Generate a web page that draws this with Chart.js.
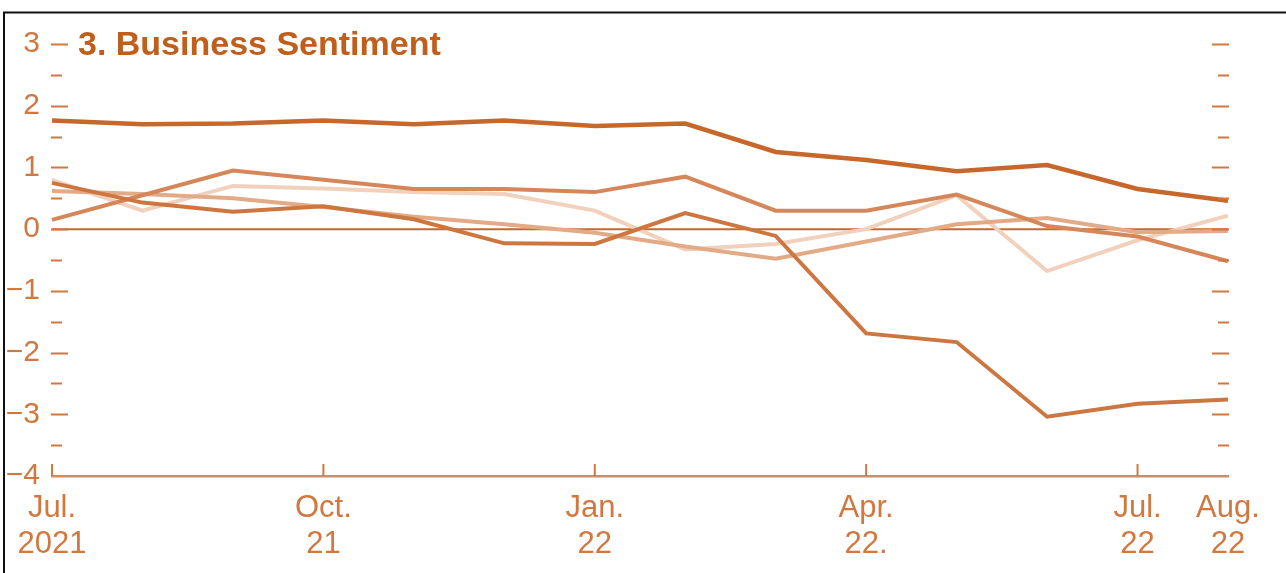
<!DOCTYPE html>
<html>
<head>
<meta charset="utf-8">
<script src="https://cdn.jsdelivr.net/npm/chart.js@4.4.1/dist/chart.umd.min.js"></script>
<style>
  html, body { margin: 0; padding: 0; background: #fff; }
  #wrap { width: 1286px; height: 573px; position: relative; }
</style>
</head>
<body>
<div id="wrap"><canvas id="sentimentChart"></canvas></div>
<script>
// Meses (jul. 2021 - ago. 2022)
const months = ["Jul 2021", "Aug 2021", "Sep 2021", "Oct 2021", "Nov 2021", "Dec 2021",
    "Jan 2022", "Feb 2022", "Mar 2022", "Apr 2022", "May 2022", "Jun 2022", "Jul 2022", "Aug 2022"];

// Etiquetas del eje x (vacío = sin etiqueta)
const xTickLabels = [["Jul.", "2021"], "", "", ["Oct.", "21"], "", "", ["Jan.", "22"], "", "",
    ["Apr.", "22."], "", "", ["Jul.", "22"], ["Aug.", "22"]];
const xTickMarks = [0, 3, 6, 9, 12];

// Series
const serieA = [1.76, 1.70, 1.71, 1.76, 1.70, 1.76, 1.67, 1.71, 1.25, 1.12, 0.94, 1.04, 0.65, 0.46];
const serieB = [0.15, 0.55, 0.95, 0.80, 0.65, 0.65, 0.60, 0.85, 0.30, 0.30, 0.56, 0.05, -0.12, -0.52];
const serieC = [0.75, 0.43, 0.28, 0.37, 0.16, -0.23, -0.24, 0.26, -0.11, -1.69, -1.83, -3.04, -2.83, -2.76];
const serieD = [0.62, 0.57, 0.50, 0.36, 0.20, 0.08, -0.06, -0.28, -0.48, -0.20, 0.08, 0.18, -0.05, -0.03];
const serieE = [0.80, 0.30, 0.70, 0.66, 0.60, 0.57, 0.30, -0.33, -0.24, 0.00, 0.55, -0.68, -0.18, 0.22];

const yMin = -4, yMax = 3;

const tickColor = "#d07840";
const titleColor = "#c05e1c";

// Marco, título, línea de cero y marcas de los ejes
const decorPlugin = {
    id: "decor",
    beforeDatasetsDraw(chart) {
        const { ctx, chartArea, scales } = chart;
        const y0 = scales.y.getPixelForValue(0);
        ctx.save();
        ctx.strokeStyle = "#c8672b";
        ctx.lineWidth = 2;
        ctx.beginPath();
        ctx.moveTo(chartArea.left, y0);
        ctx.lineTo(chartArea.right, y0);
        ctx.stroke();
        ctx.restore();
    },
    afterDraw(chart) {
        const { ctx, chartArea, scales } = chart;
        ctx.save();
        ctx.strokeStyle = tickColor;
        ctx.lineWidth = 2;
        // marcas del eje y, izquierda y derecha
        for (let v = yMin + 0.5; v <= yMax; v += 0.5) {
            const y = Math.round(scales.y.getPixelForValue(v)) + 0.5;
            const major = Number.isInteger(v);
            ctx.beginPath();
            ctx.moveTo(chartArea.left - 1, y);
            ctx.lineTo(chartArea.left + (major ? 16 : 10), y);
            ctx.moveTo(chartArea.right - (major ? 16 : 10), y);
            ctx.lineTo(chartArea.right + 1, y);
            ctx.stroke();
        }
        // marcas del eje x hacia arriba
        xTickMarks.forEach(i => {
            const x = scales.x.getPixelForValue(i);
            ctx.beginPath();
            ctx.moveTo(x, chartArea.bottom);
            ctx.lineTo(x, chartArea.bottom - 12);
            ctx.stroke();
        });
        // título
        ctx.fillStyle = titleColor;
        ctx.font = "bold 34px 'Liberation Sans', Arial, sans-serif";
        ctx.textBaseline = "alphabetic";
        ctx.textAlign = "left";
        ctx.fillText("3. Business Sentiment", 78, 55);
        // marco
        ctx.strokeStyle = "#111";
        ctx.lineWidth = 2;
        ctx.beginPath();
        ctx.moveTo(4, 573);
        ctx.lineTo(4, 12.5);
        ctx.lineTo(1286, 12.5);
        ctx.stroke();
        ctx.restore();
    }
};

function linea(data, color, width) {
    return {
        data: data,
        borderColor: color,
        borderWidth: width,
        pointRadius: 0,
        tension: 0,
        fill: false
    };
}

const ctx = document.getElementById("sentimentChart").getContext("2d");
const sentimentChart = new Chart(ctx, {
    type: "line",
    data: {
        labels: months,
        datasets: [
            linea(serieA, "#c8672b", 4.5),
            linea(serieC, "#cd7640", 4),
            linea(serieB, "#d5875a", 4),
            linea(serieD, "#e3aa86", 4),
            linea(serieE, "#f1d1bb", 4)
        ]
    },
    options: {
        responsive: true,
        maintainAspectRatio: false,
        animation: false,
        layout: { padding: { top: 44, right: 58, left: 0, bottom: 0 } },
        plugins: {
            legend: { display: false },
            tooltip: { enabled: false }
        },
        scales: {
            x: {
                type: "category",
                offset: false,
                grid: { display: false, drawTicks: false },
                border: { display: true, color: "#d98b57", width: 2.5 },
                ticks: {
                    autoSkip: false,
                    maxRotation: 0,
                    padding: 14,
                    color: tickColor,
                    font: { family: "'Liberation Sans', Arial, sans-serif", size: 31, lineHeight: 1.18 },
                    callback: (val, i) => xTickLabels[i]
                },
                afterFit: scale => { scale.height = 97; }
            },
            y: {
                min: yMin,
                max: yMax,
                grid: { display: false, drawTicks: false },
                border: { display: false },
                ticks: {
                    stepSize: 0.5,
                    padding: 12,
                    color: tickColor,
                    font: { family: "'Liberation Sans', Arial, sans-serif", size: 30 },
                    callback: v => Number.isInteger(v) ? String(v).replace("-", "\u2212") : ""
                },
                afterFit: scale => { scale.width = 52; }
            }
        }
    },
    plugins: [decorPlugin]
});
</script>
</body>
</html>
